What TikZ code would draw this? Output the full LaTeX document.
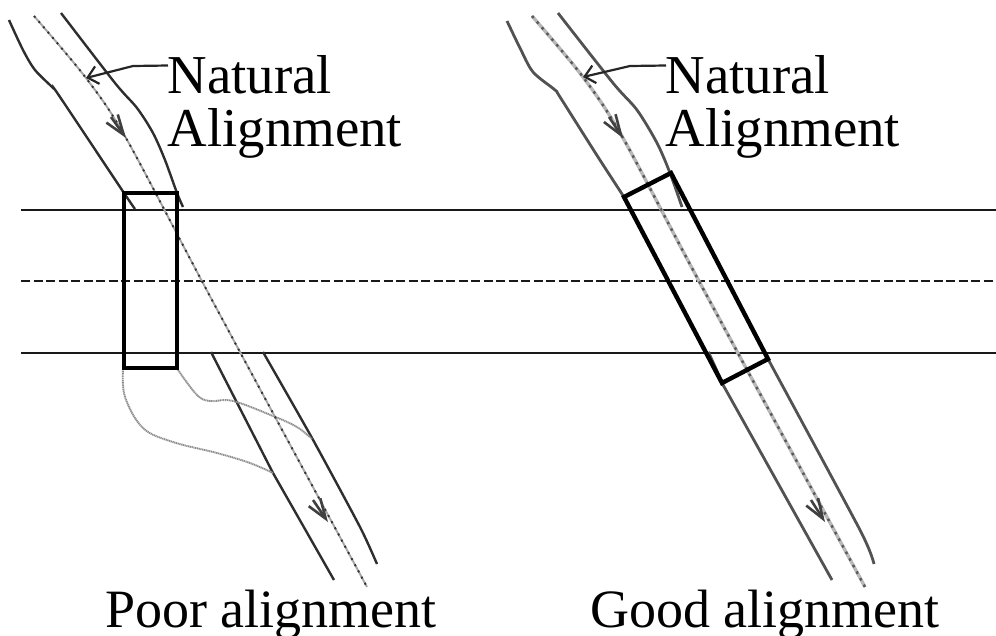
\documentclass[tikz,border=0pt]{standalone}
\usepackage{fontspec}
\setmainfont{Liberation Serif}
\usetikzlibrary{arrows.meta,shapes,positioning}

\begin{document}
\begin{tikzpicture}[
    x=1pt, y=-1pt,
    label/.style={inner sep=0pt, anchor=base west, align=left, font=\fontsize{54.8}{52.5}\selectfont},
    caption/.style={inner sep=0pt, anchor=base west, font=\fontsize{54}{54}\selectfont},
    road/.style={line width=1.8pt, draw=black!90},
    bank/.style={line width=2.4pt, draw=black!82},
    goodbank/.style={line width=2.8pt, draw=black!68},
    bridge/.style={line width=4.4pt, draw=black},
    centerline/.style={line width=1.9pt, draw=black!35, postaction={draw=black!80, line width=1.9pt, dash pattern=on 2pt off 5pt}},
    goodcenter/.style={line width=3.4pt, draw=black!28, postaction={draw=black!65, line width=2.4pt, dash pattern=on 2.5pt off 5pt}},
    oldbank/.style={line width=1.9pt, draw=black!45, dash pattern=on 1.2pt off 0.6pt},
    flow/.style={line width=2.6pt, draw=black!75, -{Straight Barb[length=20pt, width=14pt, line width=2.6pt]}},
    pointer/.style={line width=2.2pt, draw=black!85, -{Straight Barb[length=10pt, width=18pt, line width=2.2pt]}}
]
    \useasboundingbox (0,0) rectangle (996,635);

    % road edges and middle line
    \draw [road] (21,210) -- (996,210);
    \draw [road] (21,353) -- (996,353);
    \draw [road, dash pattern=on 9pt off 3.5pt] (21,281) -- (996,281);

    % poor alignment
    \draw [bank] plot [smooth, tension=0.5] coordinates {(9,20) (23,50) (35,70) (53,88) (60,97) (124,193) (135,209)};
    \draw [bank] plot [smooth, tension=0.5] coordinates {(61,13) (115,83) (137,108) (153,133) (165,160) (177,193) (183,207)};
    \draw [bank] (211,352) -- (273,473) -- (334,580);
    \draw [bank] plot [smooth, tension=0.4] coordinates {(263,352) (312,438) (360,527) (377,564)};
    \draw [oldbank] plot [smooth, tension=0.6] coordinates {(123,369) (125,397) (143,428) (173,442) (217,453) (250,463) (273,473)};
    \draw [oldbank] plot [smooth, tension=0.6] coordinates {(178,370) (197,395) (210,401) (233,401) (273,416) (297,427) (312,439)};
    \draw [centerline] plot [smooth, tension=0.5] coordinates {(34,16) (86,78) (126,138) (212,300) (367,587)};
    \draw [bridge] (124,193) rectangle (177,368);

    \coordinate (poorflowA) at (111,117);
    \coordinate (poorflowB) at (126,138);
    \coordinate (poorflowC) at (313,500);
    \coordinate (poorflowD) at (328,522);
    \draw [flow] (poorflowA) -- (poorflowB);
    \draw [flow] (poorflowC) -- (poorflowD);

    \node [label] (naturalpoor) at (167.5,146) {Natural\\Alignment};
    \coordinate (poorbend) at (133,66);
    \coordinate (poortip) at (86,78);
    \draw [pointer] (168,65.5) -- (poorbend) -- (poortip);
    \node [caption] (poorcap) at (105,627) {Poor alignment};

    % good alignment
    \draw [goodbank] plot [smooth, tension=0.5] coordinates {(507,21) (520,48) (533,72) (555,90) (560,97) (598,157) (624,197)};
    \draw [goodbank] plot [smooth, tension=0.5] coordinates {(558,13) (613,83) (637,110) (657,143) (670,173) (682,207)};
    \draw [goodbank, line width=3.6pt] (708,352) -- (722,383);
    \draw [goodbank] (722,383) -- (832,580);
    \draw [goodbank] plot [smooth, tension=0.4] coordinates {(768,359) (860,530) (874,564)};
    \draw [goodcenter] plot [smooth, tension=0.5] coordinates {(532,16) (583,77) (623,138) (700,283) (865,587)};
    \draw [bridge] (624,197) -- (671,173) -- (768,359) -- (722,383) -- cycle;

    \coordinate (goodflowA) at (609,117);
    \coordinate (goodflowB) at (623,138);
    \coordinate (goodflowC) at (811,500);
    \coordinate (goodflowD) at (825,522);
    \draw [flow] (goodflowA) -- (goodflowB);
    \draw [flow] (goodflowC) -- (goodflowD);

    \node [label] (naturalgood) at (665.5,146) {Natural\\Alignment};
    \coordinate (goodbend) at (630,66);
    \coordinate (goodtip) at (583,77);
    \draw [pointer] (666,65.5) -- (goodbend) -- (goodtip);
    \node [caption] (goodcap) at (590,627) {Good alignment};
\end{tikzpicture}
\end{document}
